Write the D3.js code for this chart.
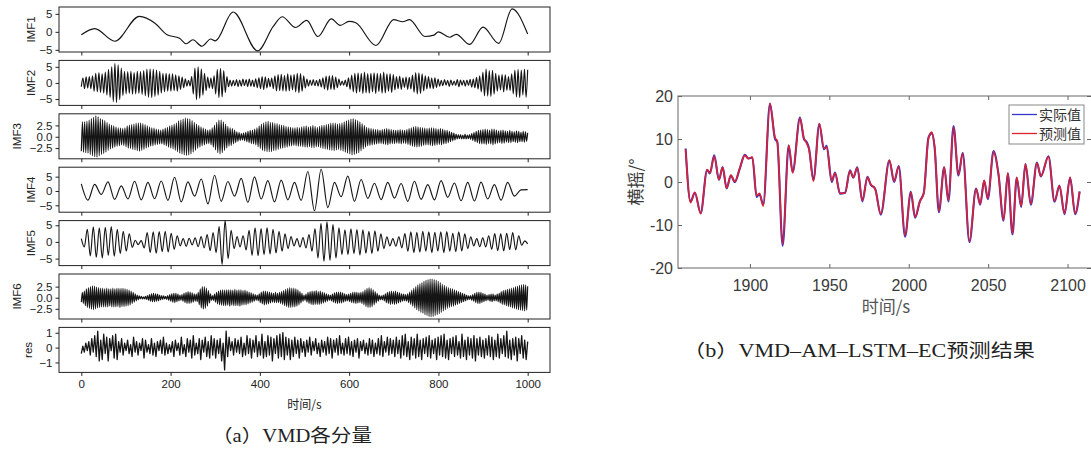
<!DOCTYPE html>
<meta charset="utf-8">
<style>
body { margin: 0; background: #fff; }
text { font-family: "Liberation Sans", Arial, sans-serif; }
</style>
<svg width="1091" height="450"></svg>
<script src="https://cdn.jsdelivr.net/npm/d3@7/dist/d3.min.js"></script>
<script>

// ---- (a) VMD components ----
var imfNames = ["IMF1", "IMF2", "IMF3", "IMF4", "IMF5", "IMF6", "res"];
var timeTicks = [0, 200, 400, 600, 800, 1000];

// IMF1 is smooth, so keep the time of each turning point
var imf1Time = [0, 30, 75, 130, 165, 192, 220, 235, 250, 270, 290, 300, 340, 395, 430, 450, 480, 505, 530, 560,
  580, 600, 615, 660, 700, 720, 735, 770, 790, 800, 825, 840, 870, 900, 935, 965, 1000];
var imf1 = [-0.8, 0.9, -2.6, 4.3, 2.4, -0.8, -1.8, -3.3, -2.2, -4.0, -2.0, -2.5, 5.5, -5.3, 1.5, 4.2, 1.2, 3.2, -1.3, 3.6,
  1.8, 2.9, 2.5, -3.8, 3.4, 2.8, 3.4, -1.3, -0.9, 0.0, -1.5, -0.7, -3.5, 1.3, -3.2, 6.4, -0.6];

// the others: successive peaks/troughs, evenly spaced over 0..1000 s
var imf2 = [
  -1.2, 1.5, -1.8, 1.9, -1.6, 2.0, -1.8, 2.2, -2.6, 3.0, -2.8, 3.2, -3.0, 2.8, -3.2, 3.4, -3.8, 4.2, -4.5, 5.0,
  -5.8, 6.0, -6.1, 5.6, -5.2, 4.6, -4.0, 3.6,
  -3.4, 3.5, -3.3, 3.6, -3.5, 3.2, -3.4, 3.6, -3.3, 3.5, -3.6, 3.8, -4.0, 4.3, -4.5, 4.4, -4.6, 4.3, -4.2, 4.0,
  -3.8, 3.6, -3.2, 3.0, -2.8, 3.0, -2.6, 2.8,
  -2.6, 2.8, -2.4, 2.5, -2.6, 2.2, -2.0, 1.8, -1.5, 1.3, -1.0, 0.8, -1.0, 2.0, -3.5, 4.6, -5.2, 5.0, -4.8, 4.4,
  -3.8, 3.0, -2.4, 1.8, -1.6, 1.5, -1.8, 2.2,
  -3.5, 4.2, -4.6, 4.5, -4.4, 3.8, -3.0, 2.0, -1.2, 0.9, -1.0, 0.8, -0.9, 1.0, -1.1, 0.9, -1.0, 1.2, -0.9, 1.0,
  -1.1, 1.2, -1.0, 0.9, -1.2, 1.3, -1.5, 1.6,
  -1.8, 2.0, -2.1, 1.9, -1.6, 1.4, -1.2, 1.5, -1.8, 2.2, -2.5, 2.6, -2.4, 2.7, -2.5, 2.3, -2.6, 2.8, -2.5, 2.4,
  -2.2, 2.6, -2.8, 3.0, -3.1, 2.9, -2.6, 2.2,
  -1.6, 1.2, -1.0, 0.9, -0.8, 1.0, -0.9, 0.8, -1.0, 1.1, -1.3, 1.6, -1.9, 2.1, -2.3, 2.2, -2.0, 2.3, -2.1, 1.8,
  -1.5, 1.2, -0.8, 0.6, -0.7, 0.9, -1.2, 1.6,
  -2.0, 2.4, -2.8, 3.0, -3.2, 3.1, -2.8, 3.0, -3.3, 3.4, -3.1, 2.9, -3.2, 3.0, -2.8, 3.1, -3.3, 3.0, -2.7, 2.9,
  -3.2, 3.4, -3.1, 2.8, -2.6, 2.8, -3.0, 2.6,
  -2.2, 2.0, -1.8, 2.1, -2.0, 1.6, -1.4, 1.8, -2.0, 1.7, -1.9, 2.4, -2.9, 3.2, -3.4, 3.1, -3.3, 2.8, -2.5, 2.2,
  -1.9, 2.0, -1.7, 1.5, -1.8, 1.6, -1.4, 1.2,
  -1.0, 0.8, -0.9, 1.0, -0.7, 0.8, -1.1, 0.9, -0.7, 0.6, -0.8, 1.0, -1.2, 0.9, -0.7, 0.8, -1.0, 0.9, -0.8, 1.1,
  -1.3, 1.2, -1.5, 1.7, -1.9, 2.2, -2.8, 3.4,
  -4.0, 4.3, -4.1, 3.8, -4.2, 3.9, -3.5, 3.0, -2.6, 2.4, -2.2, 2.6, -2.8, 2.5, -2.3, 2.0, -2.4, 2.8, -3.4, 4.0,
  -4.4, 4.2, -4.6, 4.0, -3.8, 4.3, -4.5, 4.1];

var imf3 = [
  -3.2, 3.3, -3.4, 3.3, -3.5, 3.4, -3.6, 3.7, -3.9, 4.0, -4.2, 4.3, -4.4, 4.6, -4.5, 4.4, -4.2, 4.0, -3.9, 3.8,
  -3.7, 3.6, -3.4, 3.2, -3.0, 2.8, -2.7, 2.6, -2.5, 2.4, -2.3, 2.2, -2.1, 2.0, -2.0, 1.9, -1.8, 1.8, -1.9, 2.0,
  -2.2, 2.4, -2.5, 2.6, -2.6, 2.7, -2.8, 2.8, -2.9, 3.0, -3.1, 3.1, -3.2, 3.1, -3.0, 2.9, -2.8, 2.7, -2.5, 2.4,
  -2.3, 2.2, -2.1, 2.0, -2.0, 1.9, -1.8, 1.7, -1.7, 1.6, -1.6, 1.5, -1.6, 1.7, -1.8, 1.9, -2.0, 2.1, -2.3, 2.4,
  -2.5, 2.6, -2.7, 2.8, -3.0, 3.1, -3.3, 3.5, -3.6, 3.7, -3.8, 3.9, -4.0, 4.1, -4.1, 4.0, -4.0, 3.9, -3.8, 3.6,
  -3.4, 3.2, -3.0, 2.8, -2.6, 2.5, -2.3, 2.2, -2.0, 1.9, -1.8, 1.7, -1.6, 1.5, -1.5, 1.6, -1.8, 2.0, -2.3, 2.6,
  -2.9, 3.2, -3.5, 3.7, -3.8, 3.7, -3.5, 3.3, -3.0, 2.8, -2.5, 2.3, -2.1, 2.0, -1.9, 1.8, -1.6, 1.5, -1.3, 1.1,
  -1.0, 0.9, -0.8, 0.7, -0.7, 0.8, -0.9, 1.0, -1.1, 1.2, -1.3, 1.4, -1.5, 1.5, -1.6, 1.7, -1.8, 2.0, -2.2, 2.4,
  -2.6, 2.8, -3.0, 3.1, -3.2, 3.3, -3.3, 3.4, -3.3, 3.2, -3.3, 3.2, -3.1, 3.0, -3.0, 2.9, -2.8, 2.7, -2.6, 2.6,
  -2.5, 2.5, -2.4, 2.3, -2.3, 2.2, -2.1, 2.1, -2.0, 2.0, -1.9, 2.0, -2.0, 2.1, -2.1, 2.0, -2.1, 2.2, -2.2, 2.3,
  -2.3, 2.4, -2.3, 2.2, -2.2, 2.3, -2.4, 2.5, -2.4, 2.3, -2.2, 2.1, -2.2, 2.3, -2.4, 2.5, -2.6, 2.6, -2.7, 2.7,
  -2.8, 2.8, -2.9, 3.0, -3.0, 3.1, -3.1, 3.0, -2.9, 2.8, -2.8, 2.9, -3.0, 3.1, -3.2, 3.3, -3.4, 3.5, -3.6, 3.7,
  -3.8, 3.9, -4.0, 4.0, -3.9, 3.8, -3.7, 3.6, -3.5, 3.3, -3.1, 2.9, -2.7, 2.5, -2.3, 2.1, -2.0, 1.9, -1.9, 1.8,
  -1.8, 1.7, -1.7, 1.6, -1.6, 1.6, -1.5, 1.5, -1.5, 1.6, -1.6, 1.7, -1.7, 1.8, -1.8, 1.7, -1.6, 1.6, -1.5, 1.5,
  -1.5, 1.4, -1.4, 1.5, -1.5, 1.6, -1.6, 1.5, -1.4, 1.4, -1.5, 1.6, -1.7, 1.8, -1.9, 2.0, -2.1, 2.2, -2.2, 2.3,
  -2.3, 2.2, -2.2, 2.1, -2.1, 2.0, -1.9, 1.9, -1.8, 1.8, -1.8, 1.9, -1.9, 2.0, -2.0, 1.9, -1.9, 1.8, -1.8, 1.7,
  -1.7, 1.8, -1.8, 1.7, -1.6, 1.5, -1.5, 1.4, -1.3, 1.2, -1.1, 1.0, -0.9, 0.8, -0.7, 0.6, -0.5, 0.5, -0.4, 0.5,
  -0.5, 0.4, -0.5, 0.6, -0.5, 0.4, -0.4, 0.5, -0.6, 0.7, -0.8, 0.9, -1.1, 1.2, -1.3, 1.4, -1.5, 1.5, -1.6, 1.6,
  -1.6, 1.7, -1.7, 1.6, -1.5, 1.5, -1.6, 1.7, -1.8, 1.7, -1.6, 1.5, -1.4, 1.3, -1.3, 1.4, -1.5, 1.5, -1.4, 1.3,
  -1.2, 1.2, -1.3, 1.4, -1.3, 1.2, -1.1, 1.1, -1.2, 1.3, -1.3, 1.2, -1.1, 1.0, -1.1, 1.2, -1.2, 1.1, -1.0, 0.9];

var imf4 = [2.5, -3.2, 2.3, -1.2, 3.2, -2.9, 1.8, -2.8, 3.4, -3.1, 3.0, -2.7, 3.5, -3.3, 4.8, -3.8, 3.2, -1.8, 4.2, -4.5,
  5.5, -3.6, 3.3, -1.8, 4.4, -4.0, 4.9, -2.8, 3.6, -3.8, 3.8, -3.1, 3.0, -3.3, 6.8, -6.9, 7.6, -5.8, 3.0, -2.0,
  5.2, -3.6, 4.0, -2.6, 2.7, -3.0, 3.0, -2.5, 2.6, -3.6, 3.4, -2.9, 2.2, -3.1, 3.6, -2.2, 2.8, -3.4, 3.0, -3.5,
  3.1, -2.8, 2.2, -3.2, 3.0, -1.8, 0.4, 0.5];

var imf5 = [1.0, -1.5, 3.8, -4.2, 4.5, -4.6, 4.2, -4.8, 4.4, -4.0, 4.6, -4.3, 3.8, -3.5, 3.2, -2.8, 2.4, -1.6,
  0.5, -0.8, 0.4,
  -1.8, 2.8, -3.2, 3.0, -3.4, 3.1, -2.9, 3.2, -3.0, 2.6, -2.2, 1.8,
  -1.2, 1.0, -1.3, 1.1, -0.9, 1.2, -1.4, 1.6, -1.8,
  2.2, -2.6, 2.8, -3.2, 4.6, -6.8, 6.5, -5.0, 3.5,
  -2.0, 1.6, -1.5, 1.8, -2.4,
  3.5, -4.0, 4.2, -4.1, 4.0, -3.8, 4.2, -3.6, 3.8, -3.3, 3.2, -2.8, 2.4, -2.0, 1.6,
  -1.2, 1.0, -1.5, 1.3, -1.8, 2.2, -2.8,
  4.0, -4.8, 5.5, -5.8, 6.0, -5.5, 5.2, -4.8, 4.2, -3.8,
  3.6, -3.8, 3.9, -3.5, 3.7, -3.9, 3.6, -3.4, 3.2, -3.5, 3.3, -2.8, 2.4, -2.0,
  1.5, -1.2, 1.0, -1.3, 1.5, -1.8,
  2.5, -2.8, 3.0, -3.2, 2.9, -3.1, 3.2, -2.8, 3.0, -3.2, 2.9, -2.7, 3.0, -3.2, 3.1, -2.8, 2.6, -2.9, 3.0, -2.7, 2.4, -2.0,
  1.5, -1.2, 1.0, -1.4, 1.2, -1.5, 1.8,
  -2.2, 2.5, -2.6, 2.4, -2.7, 2.6, -2.3, 2.8, -2.4, 1.8,
  -1.0, 0.3, -0.6];

var imf6 = [
  -1.0, 1.2, -1.3, 1.5, -1.8, 2.0, -2.2, 2.3, -2.4, 2.5, -2.6, 2.7, -2.7, 2.6, -2.5, 2.4, -2.3, 2.3, -2.2, 2.2,
  -2.1, 2.2, -2.1, 2.0, -2.1, 2.2, -2.1, 2.0, -1.9, 2.0, -2.1, 2.2, -2.1, 2.0, -2.1, 2.1, -2.0, 2.1, -2.2, 2.1,
  -2.0, 2.1, -2.0, 2.0,
  -1.9, 1.9, -1.8, 1.7, -1.6, 1.5, -1.3, 1.2, -1.0, 0.9, -0.7, 0.6, -0.5, 0.4, -0.3, 0.3, -0.3, 0.2, -0.3, 0.3,
  -0.4, 0.5, -0.6, 0.7, -0.8, 0.9, -0.9, 1.0, -0.9, 0.9, -0.8, 0.8, -0.7, 0.6, -0.5, 0.5, -0.4, 0.4, -0.3, 0.3,
  -0.4, 0.5, -0.6, 0.7,
  -0.8, 0.9, -1.0, 1.0, -1.1, 1.0, -0.9, 0.8, -0.7, 0.6, -0.6, 0.7, -0.8, 1.0, -1.1, 1.2, -1.3, 1.4, -1.3, 1.3,
  -1.2, 1.1, -1.0, 0.9, -0.8, 0.8, -0.9, 1.2, -1.6, 2.0, -2.3, 2.5, -2.6, 2.5, -2.4, 2.2, -1.9, 1.6, -1.2, 0.9,
  -0.6, 0.5, -0.6, 0.8,
  -1.0, 1.2, -1.4, 1.5, -1.6, 1.7, -1.7, 1.8, -1.8, 1.7, -1.8, 1.8, -1.7, 1.8, -1.9, 1.8, -1.7, 1.7, -1.8, 1.9,
  -1.8, 1.7, -1.8, 1.8, -1.9, 1.8, -1.7, 1.6, -1.6, 1.7, -1.6, 1.5, -1.4, 1.3, -1.2, 1.1, -1.0, 0.9, -0.8, 0.7,
  -0.6, 0.6, -0.7, 0.9,
  -1.1, 1.3, -1.4, 1.5, -1.6, 1.5, -1.5, 1.4, -1.4, 1.3, -1.2, 1.1, -1.0, 1.0, -1.1, 1.2, -1.1, 1.0, -1.1, 1.2,
  -1.3, 1.4, -1.5, 1.6, -1.8, 1.9, -2.0, 2.1, -2.2, 2.3, -2.2, 2.2, -2.1, 2.2, -2.1, 2.0, -1.9, 1.8, -1.6, 1.4,
  -1.2, 1.0, -0.8, 0.6,
  -0.6, 0.8, -1.0, 1.2, -1.3, 1.4, -1.5, 1.5, -1.6, 1.5, -1.5, 1.6, -1.5, 1.4, -1.5, 1.5, -1.4, 1.3, -1.2, 1.1,
  -1.0, 0.9, -0.8, 0.7, -0.6, 0.6, -0.7, 0.8, -1.0, 1.1, -1.2, 1.3, -1.3, 1.3, -1.2, 1.3, -1.2, 1.1, -1.0, 0.9,
  -0.8, 0.7, -0.7, 0.8,
  -0.9, 1.0, -1.1, 1.2, -1.2, 1.3, -1.3, 1.2, -1.2, 1.1, -1.1, 1.2, -1.3, 1.4, -1.6, 1.8, -2.0, 2.1, -2.2, 2.3,
  -2.2, 2.1, -2.0, 1.8, -1.6, 1.4, -1.2, 1.0, -0.8, 0.6, -0.5, 0.4, -0.5, 0.6, -0.7, 0.9, -1.1, 1.2, -1.3, 1.4,
  -1.5, 1.5, -1.4, 1.4,
  -1.5, 1.5, -1.4, 1.3, -1.2, 1.1, -1.0, 0.9, -0.8, 0.8, -0.7, 0.7, -0.8, 0.9, -1.1, 1.3, -1.5, 1.7, -1.9, 2.1,
  -2.3, 2.5, -2.7, 2.9, -3.0, 3.2, -3.3, 3.4, -3.5, 3.7, -3.8, 3.9, -4.0, 4.1, -4.2, 4.2, -4.3, 4.2, -4.2, 4.1,
  -4.0, 3.9, -3.8, 3.7,
  -3.6, 3.4, -3.3, 3.1, -3.0, 2.8, -2.7, 2.5, -2.4, 2.3, -2.2, 2.1, -2.0, 2.0, -1.9, 1.8, -1.7, 1.6, -1.5, 1.4,
  -1.3, 1.2, -1.1, 1.0, -0.9, 0.8, -0.7, 0.6, -0.5, 0.4, -0.4, 0.5, -0.6, 0.7, -0.8, 1.0, -1.1, 1.2, -1.3, 1.3,
  -1.3, 1.2, -1.1, 1.0,
  -0.9, 0.8, -0.7, 0.6, -0.6, 0.7, -0.8, 0.8, -0.9, 0.8, -0.7, 0.6, -0.7, 0.8, -0.9, 1.0, -1.2, 1.4, -1.5, 1.6,
  -1.6, 1.7, -1.8, 1.9, -2.0, 2.0, -2.1, 2.2, -2.3, 2.3, -2.4, 2.5, -2.6, 2.6, -2.7, 2.8, -2.8, 2.9, -2.9, 3.0,
  -3.0, 2.9, -2.8, 2.6];

var res = [
  -0.4, 0.1, -0.3, 0.3, -0.2, 0.4, -0.5, 0.6, -0.3, 0.8, -0.6, 1.1, -0.9, 0.5, -0.8, 0.9, -0.4, 0.7, -0.9, 0.6,
  -0.2, 0.8, -0.7, 0.9, -0.8, 0.4, -0.3, 0.6, -0.5, 0.3,
  -0.2, 0.5, -0.4, 0.2, -0.6, 0.7, -0.3, 0.4, -0.5, 0.3, -0.2, 0.6, -0.7, 0.5, -0.3, 0.2, -0.4, 0.6, -0.5, 0.3,
  -0.6, 0.4, -0.2, 0.5, -0.4, 0.7, -0.5, 0.3, -0.4, 0.2,
  -0.3, 0.4, -0.6, 0.5, -0.2, 0.3, -0.5, 0.7, -0.4, 0.2, -0.6, 0.6, -0.3, 0.5, -0.7, 0.8, -0.5, 0.3, -0.4, 0.6,
  -0.8, 0.5, -0.3, 0.7, -0.6, 0.4, -0.7, 0.8, -0.5, 0.6,
  -0.7, 0.5, -0.4, 0.6, -0.9, 0.3, -1.5, 1.1, -0.6, 0.7, -0.2, 0.4, -0.5, 0.6, -0.3, 0.5, -0.4, 0.7, -0.6, 0.3,
  -0.5, 0.8, -0.4, 0.6, -0.7, 0.5, -0.3, 0.8, -0.6, 0.4,
  -0.5, 0.9, -0.7, 0.4, -0.6, 0.8, -0.5, 0.7, -0.9, 0.6, -0.4, 0.8, -0.7, 0.9, -0.6, 1.0, -0.8, 0.7, -0.5, 0.6,
  -0.8, 0.5, -0.6, 0.7, -0.4, 0.5, -0.7, 0.6, -0.3, 0.4,
  -0.6, 0.5, -0.3, 0.7, -0.5, 0.4, -0.2, 0.6, -0.4, 0.3, -0.6, 0.5, -0.3, 0.4, -0.5, 0.7, -0.4, 0.6, -0.7, 0.5,
  -0.3, 0.6, -0.5, 0.8, -0.4, 0.3, -0.5, 0.6, -0.4, 0.7,
  -0.5, 0.4, -0.6, 0.5, -0.3, 0.6, -0.7, 0.4, -0.2, 0.5, -0.4, 0.3, -0.5, 0.6, -0.4, 0.5, -0.6, 0.3, -0.4, 0.6,
  -0.5, 0.8, -0.6, 0.4, -0.3, 0.7, -0.5, 0.6, -0.4, 0.5,
  -0.6, 0.7, -0.4, 0.5, -0.7, 0.8, -0.5, 0.9, -0.6, 0.4, -0.8, 0.7, -0.5, 0.6, -0.7, 0.9, -0.6, 0.5, -0.8, 0.6,
  -0.4, 0.7, -0.6, 0.8, -0.7, 0.5, -0.4, 0.6, -0.8, 0.7,
  -0.5, 0.8, -0.6, 0.9, -0.7, 0.5, -0.8, 0.6, -0.4, 0.7, -0.6, 0.8, -0.5, 0.4, -0.7, 0.9, -0.6, 0.5, -0.8, 0.7,
  -0.5, 0.6, -0.7, 0.8, -0.9, 0.6, -0.5, 0.7, -0.6, 0.5,
  -0.7, 0.6, -0.5, 0.8, -0.6, 0.7, -0.8, 0.5, -0.6, 0.9, -0.7, 0.6, -0.4, 0.8, -0.6, 1.1, -0.7, 0.5, -0.8, 0.6,
  -0.5, 0.7, -0.9, 0.6, -0.4, 0.8, -0.7, 0.5, -0.8, 0.4];

// ---- (b) prediction ----
var rollTime = [1859.5, 1862.6, 1865.3, 1869, 1873, 1874.8, 1877.5, 1880.5, 1882.8, 1885.3,
  1888, 1890.5, 1893.5, 1896.8, 1899, 1901.5, 1904.2, 1906, 1908.4, 1912.6,
  1915.8, 1917.2, 1920.6, 1924.4, 1926.9, 1931.5, 1934, 1935.7, 1937.2, 1940,
  1943.7, 1946.6, 1948.3, 1951.5, 1953.6, 1956.7, 1959.9, 1963, 1965.1, 1967.6,
  1970.8, 1974, 1976, 1978.8, 1982.4, 1987.8, 1990.8, 1993.7, 1997.7, 2001.3,
  2004, 2007, 2009.5, 2012.4, 2014.5, 2016.3, 2019, 2022.3, 2025, 2028.2,
  2031.3, 2034, 2038.2, 2042.4, 2045, 2047.5, 2049.8, 2053.4, 2056.5, 2059.7,
  2062.4, 2065.3, 2068, 2070.8, 2073.5, 2076.9, 2080.7, 2083.2, 2088, 2091.8,
  2094.9, 2098.1, 2101.6, 2104.8, 2107.6];
var rollActual = [7.8, -4.5, -2.5, -7.2, 2.8, 2.0, 6.2, 0.5, 3.5, -1.5,
  1.5, 0.0, 3.0, 6.3, 5.5, 5.7, -3.5, -2.8, -5.3, 18.2,
  10.0, 9.3, -14.8, 8.5, 2.3, 15.0, 10.0, 9.3, 7.8, 0.5,
  13.5, 7.6, 8.4, 0.0, 2.2, -2.7, -2.5, 2.7, 1.0, 3.4,
  -4.5, 1.2, -0.6, -1.5, -7.6, 5.0, 0.0, 3.7, -12.7, -2.3,
  -8.3, -4.5, -2.5, 10.3, 11.3, 8.0, -7.0, 3.4, -4.5, 13.0,
  1.5, 6.8, -14.0, -1.5, -5.3, 0.3, -4.0, 7.2, 1.8, -9.0,
  2.0, -12.2, 1.0, -5.8, 4.2, -5.3, 4.5, 1.3, 6.0, -4.6,
  -0.8, -7.5, 1.0, -7.5, -2.2];
var rollPredicted = [7.6, -4.8, -2.4, -7.4, 2.9, 2.1, 6.0, 0.6, 3.4, -1.4,
  1.6, 0.1, 3.1, 6.2, 5.4, 5.8, -3.2, -2.6, -5.6, 18.3,
  10.3, 9.6, -14.5, 8.6, 2.1, 14.8, 10.2, 9.0, 7.6, 0.2,
  13.6, 7.8, 8.2, 0.3, 2.1, -2.6, -2.6, 2.6, 1.1, 3.3,
  -4.3, 1.1, -0.5, -1.6, -7.4, 5.1, 0.2, 3.6, -12.5, -2.4,
  -8.1, -4.6, -2.6, 10.0, 11.6, 8.2, -6.8, 3.5, -4.3, 12.8,
  1.7, 6.7, -13.8, -1.6, -5.1, 0.4, -3.8, 7.1, 1.9, -8.8,
  2.1, -12.0, 1.1, -5.6, 4.1, -5.1, 4.4, 1.4, 5.9, -4.4,
  -0.9, -7.3, 1.1, -7.3, -2.3];
var rollXTicks = [1900, 1950, 2000, 2050, 2100];
var rollYTicks = [-20, -10, 0, 10, 20];
var legendNames = ["实际值", "预测值"];

var svg = d3.select("svg");

// ---------- left: stacked components ----------
var xL = d3.scaleLinear().domain([-50, 1050]).range([59, 550]);
var panelH = 45, panelStep = 53.4, panelTop0 = 7;

var panels = [
  {values: imf1, times: imf1Time, dom: [-5.6, 6.9], ticks: [-5, 0, 5], fmt: d3.format("d"), curve: d3.curveMonotoneX, lx: 31},
  {values: imf2, dom: [-7, 7], ticks: [-5, 0, 5], fmt: d3.format("d"), curve: d3.curveMonotoneX, lx: 31},
  {values: imf3, dom: [-4.86, 5.07], ticks: [-2.5, 0, 2.5], fmt: d3.format(".1f"), curve: d3.curveMonotoneX, lx: 17},
  {values: imf4, dom: [-7.4, 8.3], ticks: [-5, 0, 5], fmt: d3.format("d"), curve: d3.curveMonotoneX, lx: 31},
  {values: imf5, dom: [-7.1, 6.4], ticks: [-5, 0, 5], fmt: d3.format("d"), curve: d3.curveMonotoneX, lx: 31},
  {values: imf6, dom: [-4.8, 5.35], ticks: [-2.5, 0, 2.5], fmt: d3.format(".1f"), curve: d3.curveMonotoneX, lx: 17},
  {values: res, dom: [-1.67, 1.36], ticks: [-1, 0, 1], fmt: d3.format("d"), curve: d3.curveLinear, lx: 28}
];

panels.forEach(function(p, i) {
  var top = panelTop0 + i * panelStep;
  var y = d3.scaleLinear().domain(p.dom).range([top + panelH, top]);
  var n = p.values.length;
  var pts = p.values.map(function(v, k) {
    return [p.times ? p.times[k] : k * 1000 / (n - 1), v];
  });

  var g = svg.append("g");

  g.append("path")
      .datum(pts)
      .attr("fill", "none")
      .attr("stroke", "#151515")
      .attr("stroke-width", i == 6 ? 1.3 : 1.15)
      .attr("stroke-linejoin", "round")
      .attr("d", d3.line()
        .x(function(d) { return xL(d[0]); })
        .y(function(d) { return y(d[1]); })
        .curve(p.curve));

  g.append("rect")
      .attr("x", xL.range()[0])
      .attr("y", top)
      .attr("width", xL.range()[1] - xL.range()[0])
      .attr("height", panelH)
      .attr("fill", "none")
      .attr("stroke", "#222")
      .attr("stroke-width", 1);

  var ya = g.append("g")
      .attr("transform", "translate(" + xL.range()[0] + ",0)")
      .call(d3.axisLeft(y).tickValues(p.ticks).tickSize(3.5).tickPadding(3).tickFormat(p.fmt));
  ya.select(".domain").remove();
  ya.selectAll("text").style("font-size", "11.5px").attr("fill", "#222");
  ya.selectAll("line").attr("stroke", "#222");

  var xa = g.append("g")
      .attr("transform", "translate(0," + (top + panelH) + ")")
      .call(d3.axisBottom(xL).tickValues(timeTicks).tickSize(3.5).tickPadding(4)
        .tickFormat(i == panels.length - 1 ? d3.format("d") : ""));
  xa.select(".domain").remove();
  xa.selectAll("text").style("font-size", "11.5px").attr("fill", "#222");
  xa.selectAll("line").attr("stroke", "#222");

  g.append("text")
      .attr("transform", "translate(" + p.lx + "," + (top + panelH / 2) + ") rotate(-90)")
      .attr("text-anchor", "middle")
      .attr("dy", "0.35em")
      .style("font-size", "11.5px")
      .attr("fill", "#222")
      .text(imfNames[i]);
});

svg.append("text")
    .attr("x", xL(500))
    .attr("y", 409)
    .attr("text-anchor", "middle")
    .style("font-family", "'Noto Sans CJK SC', sans-serif")
    .style("font-size", "12px")
    .attr("fill", "#222")
    .text("时间/s");

svg.append("text")
    .attr("x", 292)
    .attr("y", 442)
    .attr("text-anchor", "middle")
    .attr("textLength", 160)
    .attr("lengthAdjust", "spacingAndGlyphs")
    .style("font-family", "'Liberation Serif', 'Noto Sans CJK SC', serif")
    .style("font-size", "18px")
    .attr("fill", "#222")
    .text("（a）VMD各分量");

// ---------- right: prediction result ----------
var xR = d3.scaleLinear().domain([1854.7, 2115.4]).range([678, 1092]);
var yR = d3.scaleLinear().domain([-20, 20]).range([268, 96]);
var gR = svg.append("g");

var axisColor = "#666";

gR.append("rect")
    .attr("x", xR.range()[0])
    .attr("y", yR.range()[1])
    .attr("width", xR.range()[1] - xR.range()[0])
    .attr("height", yR.range()[0] - yR.range()[1])
    .attr("fill", "none")
    .attr("stroke", axisColor)
    .attr("stroke-width", 1);

function styleAxis(sel) {
  sel.select(".domain").remove();
  sel.selectAll("line").attr("stroke", axisColor);
  sel.selectAll("text").style("font-size", "16px").attr("fill", "#3a3a3a");
}

gR.append("g")
    .attr("transform", "translate(0," + yR.range()[0] + ")")
    .call(d3.axisBottom(xR).tickValues(rollXTicks).tickSizeInner(-4).tickSizeOuter(0).tickPadding(12)
      .tickFormat(function(d) { return String(d); }))
    .call(styleAxis);
gR.append("g")
    .attr("transform", "translate(0," + yR.range()[1] + ")")
    .call(d3.axisTop(xR).tickValues(rollXTicks).tickSizeInner(-4).tickSizeOuter(0).tickFormat(""))
    .call(styleAxis);
gR.append("g")
    .attr("transform", "translate(" + xR.range()[0] + ",0)")
    .call(d3.axisLeft(yR).tickValues(rollYTicks).tickSizeInner(-4).tickSizeOuter(0).tickPadding(5)
      .tickFormat(function(d) { return String(d); }))
    .call(styleAxis);
gR.append("g")
    .attr("transform", "translate(" + (xR.range()[1] - 1) + ",0)")
    .call(d3.axisRight(yR).tickValues(rollYTicks).tickSizeInner(-4).tickSizeOuter(0).tickFormat(""))
    .call(styleAxis);

var rollLine = d3.line()
    .x(function(d) { return xR(d[0]); })
    .y(function(d) { return yR(d[1]); })
    .curve(d3.curveMonotoneX);

gR.append("path")
    .datum(rollTime.map(function(t, k) { return [t, rollActual[k]]; }))
    .attr("fill", "none")
    .attr("stroke", "#3535c8")
    .attr("stroke-width", 2.1)
    .attr("d", rollLine);
gR.append("path")
    .datum(rollTime.map(function(t, k) { return [t, rollPredicted[k]]; }))
    .attr("fill", "none")
    .attr("stroke", "#e0202c")
    .attr("stroke-width", 1.6)
    .attr("d", rollLine);

// legend
var lg = gR.append("g").attr("transform", "translate(1009,105)");
lg.append("rect")
    .attr("width", 75).attr("height", 39)
    .attr("fill", "#fff").attr("stroke", "#888").attr("stroke-width", 1);
[["#3535c8", 0], ["#e0202c", 1]].forEach(function(c) {
  var yy = 9.5 + c[1] * 19;
  lg.append("line").attr("x1", 3).attr("x2", 28).attr("y1", yy).attr("y2", yy)
      .attr("stroke", c[0]).attr("stroke-width", 1.3);
  lg.append("text").attr("x", 30).attr("y", yy).attr("dy", "0.36em")
      .style("font-family", "'Noto Sans CJK SC', serif").style("font-size", "14px")
      .attr("fill", "#333")
      .text(legendNames[c[1]]);
});

gR.append("text")
    .attr("transform", "translate(636," + yR(0) + ") rotate(-90)")
    .attr("text-anchor", "middle")
    .attr("dy", "0.35em")
    .style("font-family", "'Noto Sans CJK SC', serif")
    .style("font-size", "17px")
    .attr("fill", "#3a3a3a")
    .text("横摇/°");

gR.append("text")
    .attr("x", 886)
    .attr("y", 313)
    .attr("text-anchor", "middle")
    .style("font-family", "'Noto Sans CJK SC', sans-serif")
    .style("font-size", "17px")
    .attr("fill", "#555")
    .text("时间/s");

gR.append("text")
    .attr("x", 859)
    .attr("y", 357)
    .attr("text-anchor", "middle")
    .attr("textLength", 352)
    .attr("lengthAdjust", "spacingAndGlyphs")
    .style("font-family", "'Liberation Serif', 'Noto Sans CJK SC', serif")
    .style("font-size", "18px")
    .attr("fill", "#222")
    .text("（b）VMD–AM–LSTM–EC预测结果");

</script>
